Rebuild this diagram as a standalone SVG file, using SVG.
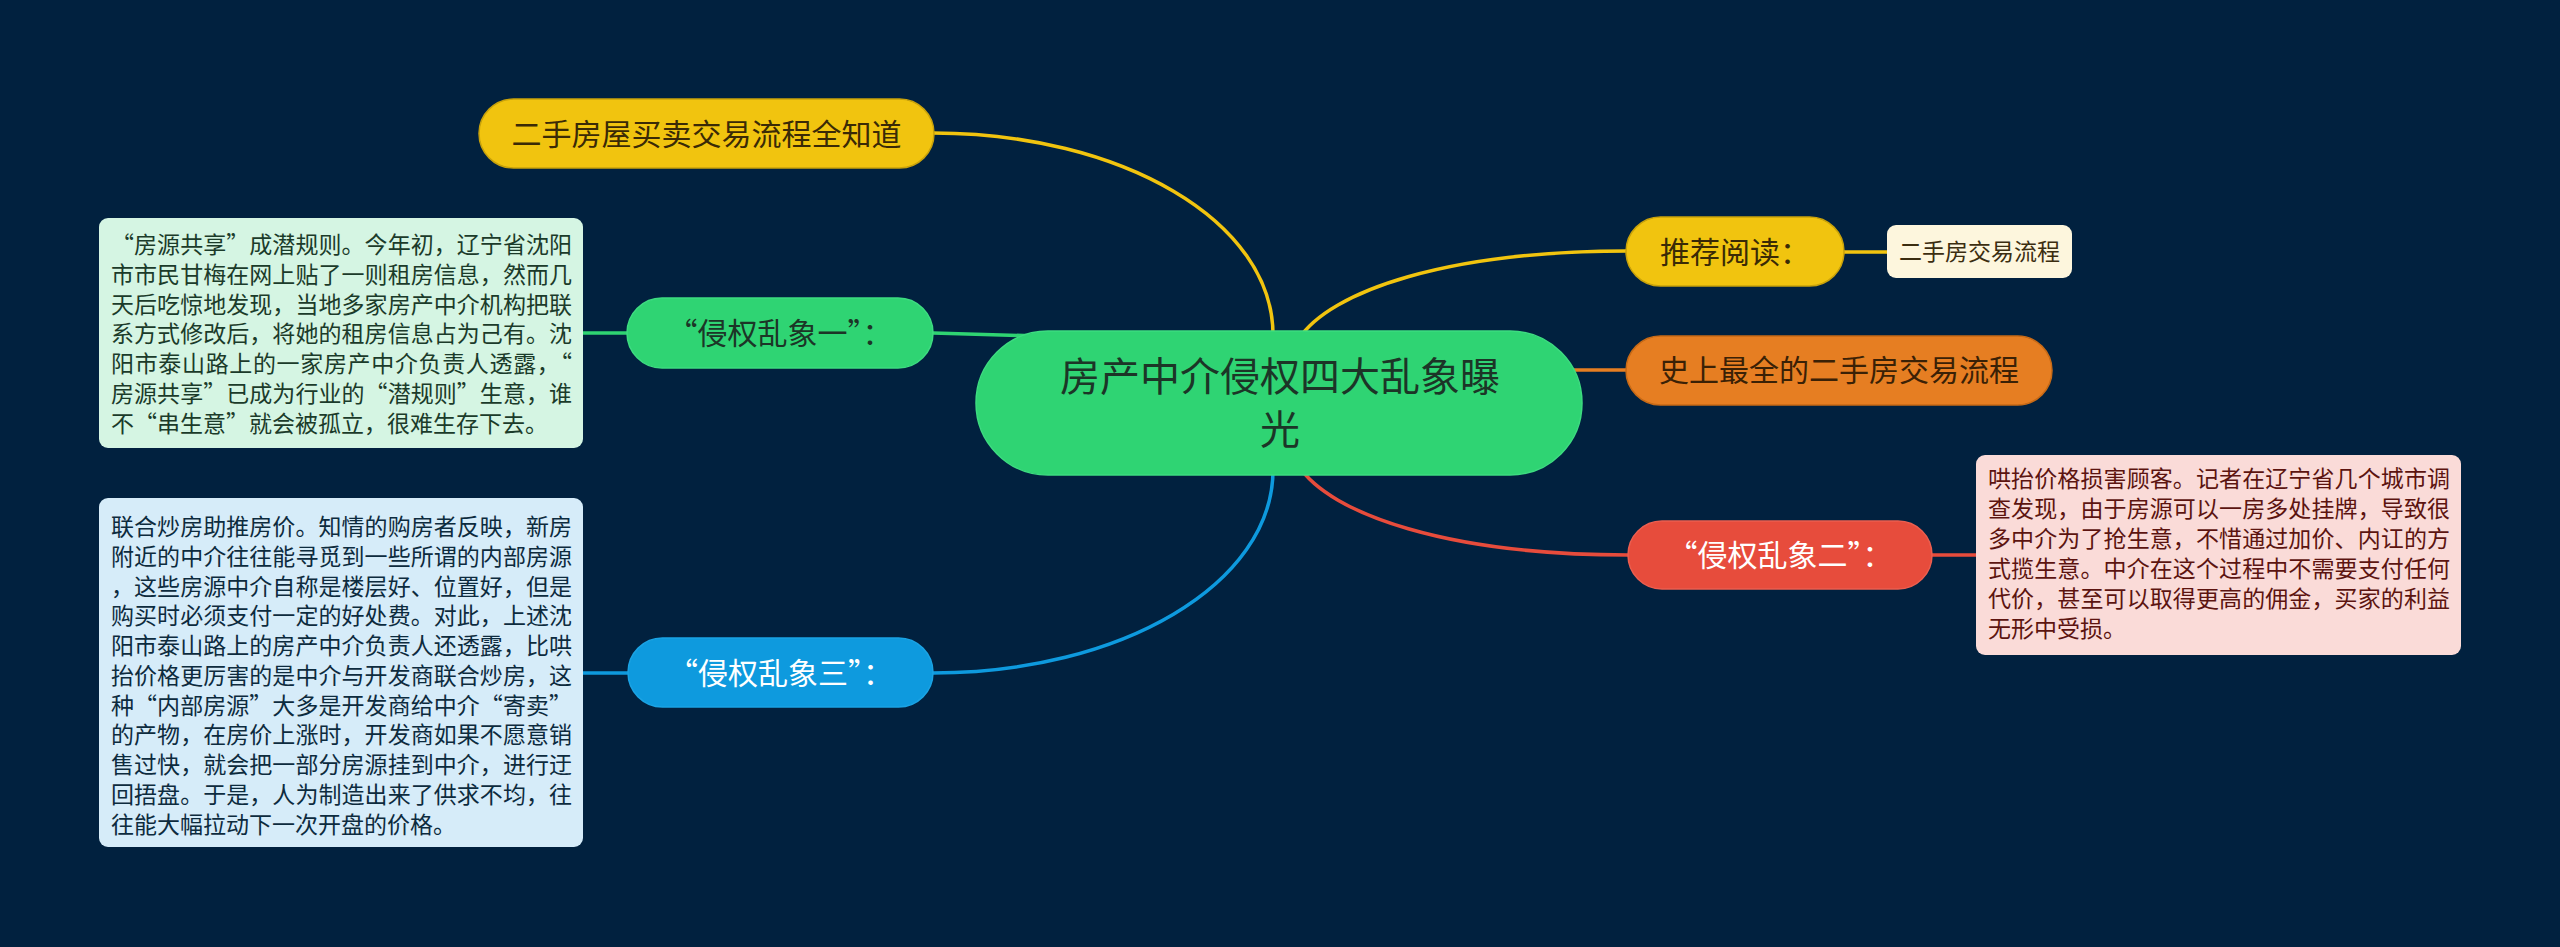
<svg xmlns="http://www.w3.org/2000/svg" width="2560" height="947" viewBox="0 0 2560 947">
<style>
text{font-family:"Noto Sans CJK SC","Noto Sans",sans-serif}
.c{fill:none;stroke-width:3.5;stroke-linecap:round}
.cy{stroke:#f1c40f}.cg{stroke:#2fd472}.co{stroke:#e67e22}.cr{stroke:#e74c3c}.cb{stroke:#0e9ade}
.t40{font-size:40px}.t30{font-size:30px}.t23{font-size:23px}
.mid{text-anchor:middle}
</style>
<rect width="2560" height="947" fill="#01213f"/>
<g id="connectors">
<path class="c cy" d="M933 133 C1121 133 1273 221 1273 335"/>
<path class="c cg" d="M933 333 L1040 336"/>
<path class="c cb" d="M933 673 C1121 673 1273 584 1273 470"/>
<path class="c cy" d="M1298 340 C1330 290 1450 251 1627 251"/>
<path class="c co" d="M1560 370 L1627 370"/>
<path class="c cr" d="M1298 465 C1330 515 1450 555 1628 555"/>
<path class="c cy" d="M1843 252 L1888 252"/>
<path class="c cg" d="M583 333 L628 333"/>
<path class="c cb" d="M583 673 L628 673"/>
<path class="c cr" d="M1931 555 L1977 555"/>
</g>
<g id="center">
<rect x="976" y="331" width="606" height="144" rx="72" fill="#2fd473" stroke="#3ddc80" stroke-width="1.5"/>
<text class="t40 mid" x="1280" y="391" fill="#1c3527">房产中介侵权四大乱象曝</text>
<text class="t40 mid" x="1280" y="444" fill="#1c3527">光</text>
</g>
<g id="node-trade">
<rect x="479" y="99" width="455" height="69" rx="34.5" fill="#f1c40f" stroke="#c9a20a" stroke-width="1.5"/>
<text class="t30 mid" x="706.5" y="145" fill="#3a2a06">二手房屋买卖交易流程全知道</text>
</g>
<g id="node-recommend">
<rect x="1626" y="217" width="218" height="69" rx="34.5" fill="#f1c40f" stroke="#c9a20a" stroke-width="1.5"/>
<text class="t30 mid" x="1735" y="262.5" fill="#3a2a06">推荐阅读：</text>
</g>
<g id="node-recommend-link">
<rect x="1887" y="225" width="185" height="53" rx="9" fill="#fdf6dd"/>
<text class="t23 mid" x="1979.5" y="260" fill="#3b2d10">二手房交易流程</text>
</g>
<g id="node-full-process">
<rect x="1626" y="336" width="426" height="69" rx="34.5" fill="#e67e22" stroke="#c86a16" stroke-width="1.5"/>
<text class="t30 mid" x="1839" y="381" fill="#3a2106">史上最全的二手房交易流程</text>
</g>
<g id="node-chaos1">
<rect x="627" y="298" width="306" height="70" rx="35" fill="#2fd473" stroke="#3ddc80" stroke-width="1.5"/>
<text class="t30 mid" x="780" y="344" fill="#1c3527">“侵权乱象一”：</text>
</g>
<g id="node-chaos1-detail">
<rect x="99" y="218" width="484" height="230" rx="9" fill="#d5f5e3"/>
<g class="t23" fill="#1b3b2a">
<text x="111" y="253" textLength="461" lengthAdjust="spacing">“房源共享”成潜规则。今年初，辽宁省沈阳</text>
<text x="111" y="282.75" textLength="461" lengthAdjust="spacing">市市民甘梅在网上贴了一则租房信息，然而几</text>
<text x="111" y="312.5" textLength="461" lengthAdjust="spacing">天后吃惊地发现，当地多家房产中介机构把联</text>
<text x="111" y="342.25" textLength="461" lengthAdjust="spacing">系方式修改后，将她的租房信息占为己有。沈</text>
<text x="111" y="372" textLength="461" lengthAdjust="spacing">阳市泰山路上的一家房产中介负责人透露，“</text>
<text x="111" y="401.75" textLength="461" lengthAdjust="spacing">房源共享”已成为行业的“潜规则”生意，谁</text>
<text x="111" y="431.5">不“串生意”就会被孤立，很难生存下去。</text>
</g>
</g>
<g id="node-chaos3">
<rect x="628" y="638" width="305" height="69" rx="34.5" fill="#0e9ade" stroke="#1aa3e4" stroke-width="1.5"/>
<text class="t30 mid" x="780.5" y="683.5" fill="#ffffff">“侵权乱象三”：</text>
</g>
<g id="node-chaos3-detail">
<rect x="99" y="498" width="484" height="349" rx="9" fill="#d6ecf9"/>
<g class="t23" fill="#0d2b3e">
<text x="111" y="535" textLength="461" lengthAdjust="spacing">联合炒房助推房价。知情的购房者反映，新房</text>
<text x="111" y="564.75" textLength="461" lengthAdjust="spacing">附近的中介往往能寻觅到一些所谓的内部房源</text>
<text x="111" y="594.5" textLength="461" lengthAdjust="spacing">，这些房源中介自称是楼层好、位置好，但是</text>
<text x="111" y="624.25" textLength="461" lengthAdjust="spacing">购买时必须支付一定的好处费。对此，上述沈</text>
<text x="111" y="654" textLength="461" lengthAdjust="spacing">阳市泰山路上的房产中介负责人还透露，比哄</text>
<text x="111" y="683.75" textLength="461" lengthAdjust="spacing">抬价格更厉害的是中介与开发商联合炒房，这</text>
<text x="111" y="713.5" textLength="461" lengthAdjust="spacing">种“内部房源”大多是开发商给中介“寄卖”</text>
<text x="111" y="743.25" textLength="461" lengthAdjust="spacing">的产物，在房价上涨时，开发商如果不愿意销</text>
<text x="111" y="773" textLength="461" lengthAdjust="spacing">售过快，就会把一部分房源挂到中介，进行迂</text>
<text x="111" y="802.75" textLength="461" lengthAdjust="spacing">回捂盘。于是，人为制造出来了供求不均，往</text>
<text x="111" y="832.5">往能大幅拉动下一次开盘的价格。</text>
</g>
</g>
<g id="node-chaos2">
<rect x="1628" y="521" width="304" height="68" rx="34" fill="#e74c3c" stroke="#ec5e4f" stroke-width="1.5"/>
<text class="t30 mid" x="1780" y="565.5" fill="#ffffff">“侵权乱象二”：</text>
</g>
<g id="node-chaos2-detail">
<rect x="1976" y="455" width="485" height="200" rx="9" fill="#fadbd8"/>
<g class="t23" fill="#5c1410">
<text x="1988" y="487" textLength="462" lengthAdjust="spacing">哄抬价格损害顾客。记者在辽宁省几个城市调</text>
<text x="1988" y="517" textLength="462" lengthAdjust="spacing">查发现，由于房源可以一房多处挂牌，导致很</text>
<text x="1988" y="547" textLength="462" lengthAdjust="spacing">多中介为了抢生意，不惜通过加价、内讧的方</text>
<text x="1988" y="577" textLength="462" lengthAdjust="spacing">式揽生意。中介在这个过程中不需要支付任何</text>
<text x="1988" y="607" textLength="462" lengthAdjust="spacing">代价，甚至可以取得更高的佣金，买家的利益</text>
<text x="1988" y="637">无形中受损。</text>
</g>
</g>
</svg>
